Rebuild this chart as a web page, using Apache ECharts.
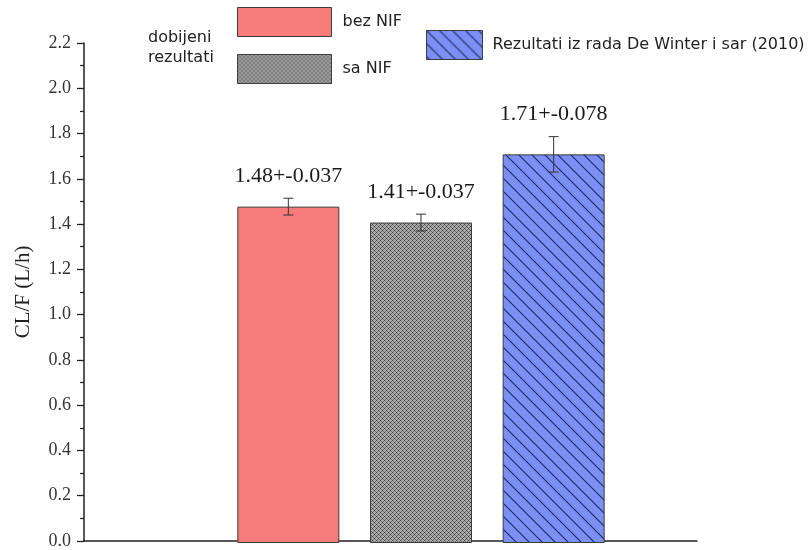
<!DOCTYPE html>
<html>
<head>
<meta charset="utf-8">
<script src="https://cdn.jsdelivr.net/npm/echarts@6/dist/echarts.min.js"></script>
<style>
  html, body { margin: 0; padding: 0; background: #fff; }
  #chart { width: 808px; height: 550px; }
</style>
</head>
<body>
<div id="chart"></div>
<script>
// Groups, clearance means and their spreads
const groups = ['bez NIF', 'sa NIF', 'Rezultati iz rada De Winter i sar (2010)'];
const clearance = [1.48, 1.41, 1.71];
const spread = [0.037, 0.037, 0.078];
const valueLabels = ['1.48+-0.037', '1.41+-0.037', '1.71+-0.078'];

// Fill patterns: grey cross-hatch mesh and blue with diagonal lines
function meshPattern() {
  const c = document.createElement('canvas');
  c.width = 4; c.height = 4;
  const g = c.getContext('2d');
  g.fillStyle = '#acacac';
  g.fillRect(0, 0, 4, 4);
  g.fillStyle = '#3a3a3a';
  g.fillRect(0, 0, 1, 1); g.fillRect(2, 2, 1, 1);
  g.fillStyle = '#6a6a6a';
  g.fillRect(1, 1, 1, 1); g.fillRect(3, 3, 1, 1);
  g.fillRect(3, 1, 1, 1); g.fillRect(1, 3, 1, 1);
  return c;
}
function hatchPattern() {
  const s = 13;
  const c = document.createElement('canvas');
  c.width = s; c.height = s;
  const g = c.getContext('2d');
  g.fillStyle = '#7b8ff5';
  g.fillRect(0, 0, s, s);
  g.strokeStyle = '#1f2a60';
  g.lineWidth = 1.1;
  g.beginPath();
  g.moveTo(-2, -2); g.lineTo(s + 2, s + 2);
  g.moveTo(-2, s - 2); g.lineTo(2, s + 2);
  g.moveTo(s - 2, -2); g.lineTo(s + 2, 2);
  g.stroke();
  return c;
}

const fills = [
  '#f77b7b',
  { image: meshPattern(), repeat: 'repeat' },
  { image: hatchPattern(), repeat: 'repeat' }
];

const chart = echarts.init(document.getElementById('chart'), null, { renderer: 'canvas' });

const barSeries = groups.map((name, i) => ({
  name: name,
  type: 'bar',
  xAxisIndex: 1,
  yAxisIndex: 1,
  barWidth: 102,
  barGap: '-100%',
  itemStyle: { color: fills[i], borderColor: '#3c3c3c', borderWidth: 1 },
  data: groups.map((g, j) => (j === i ? clearance[i] : '-')),
  z: 2
}));

const errorSeries = {
  type: 'custom',
  xAxisIndex: 1,
  yAxisIndex: 1,
  z: 5,
  data: clearance.map((v, i) => [i, v, spread[i]]),
  renderItem: function (params, api) {
    const i = api.value(0), v = api.value(1), e = api.value(2);
    const hi = api.coord([i, v + e]);
    const lo = api.coord([i, v - e]);
    const cap = 5;
    return {
      type: 'group',
      children: [
        { type: 'line', shape: { x1: hi[0], y1: hi[1], x2: lo[0], y2: lo[1] }, style: { stroke: '#333', lineWidth: 1 } },
        { type: 'line', shape: { x1: hi[0] - cap, y1: hi[1], x2: hi[0] + cap, y2: hi[1] }, style: { stroke: '#333', lineWidth: 1 } },
        { type: 'line', shape: { x1: lo[0] - cap, y1: lo[1], x2: lo[0] + cap, y2: lo[1] }, style: { stroke: '#333', lineWidth: 1 } },
        { type: 'text', x: hi[0], y: hi[1] - 11,
          style: { text: valueLabels[i], fill: '#1a1a1a', font: '22px "Liberation Serif", serif', align: 'center', verticalAlign: 'bottom' } }
      ]
    };
  }
};

const sans = '"DejaVu Sans", Verdana, sans-serif';
const legendItem = { borderColor: '#3c3c3c', borderWidth: 1 };

chart.setOption({
  animation: false,
  backgroundColor: '#fff',
  title: {
    text: 'dobijeni\nrezultati',
    left: 148, top: 28, padding: 0,
    textStyle: { fontFamily: sans, fontSize: 16, fontWeight: 'normal', color: '#222', lineHeight: 20 }
  },
  legend: [
    { data: [groups[0]], left: 237, top: 7, padding: 0, icon: 'rect', itemWidth: 94, itemHeight: 29,
      textStyle: { fontFamily: sans, fontSize: 16, color: '#222', padding: [0, 0, 0, 6] }, itemStyle: legendItem },
    { data: [groups[1]], left: 237, top: 54, padding: 0, icon: 'rect', itemWidth: 94, itemHeight: 29,
      textStyle: { fontFamily: sans, fontSize: 16, color: '#222', padding: [0, 0, 0, 6] }, itemStyle: legendItem },
    { data: [groups[2]], left: 426, top: 30, padding: 0, icon: 'rect', itemWidth: 56, itemHeight: 29,
      textStyle: { fontFamily: sans, fontSize: 16, color: '#222', padding: [0, 0, 0, 5] }, itemStyle: legendItem }
  ],
  grid: [
    { left: 84, right: 111, top: 43, bottom: 7 },
    { left: 222, width: 398, top: 43, bottom: 7 }
  ],
  xAxis: [
    { gridIndex: 0, type: 'value', min: 0, max: 1,
      axisLine: { show: true, onZero: false, lineStyle: { color: '#222', width: 1.5 } },
      axisTick: { show: false }, axisLabel: { show: false }, splitLine: { show: false } },
    { gridIndex: 1, type: 'category', data: groups, show: false }
  ],
  yAxis: [
    { gridIndex: 0, type: 'value', min: 0, max: 2.2, interval: 0.2,
      name: 'CL/F (L/h)', nameLocation: 'middle', nameGap: 50, nameRotate: 90,
      nameTextStyle: { fontFamily: '"Liberation Serif", serif', fontSize: 21, color: '#222' },
      axisLine: { show: true, lineStyle: { color: '#222', width: 1.5 } },
      axisTick: { show: true, length: 7, lineStyle: { color: '#222', width: 1.3 } },
      minorTick: { show: true, splitNumber: 2, length: 4, lineStyle: { color: '#222', width: 1.2 } },
      axisLabel: { margin: 13, fontFamily: '"Liberation Serif", serif', fontSize: 18, color: '#333',
        formatter: v => v.toFixed(1) },
      splitLine: { show: false } },
    { gridIndex: 1, type: 'value', min: 0, max: 2.2, show: false }
  ],
  series: barSeries.concat([errorSeries])
});
</script>
</body>
</html>
